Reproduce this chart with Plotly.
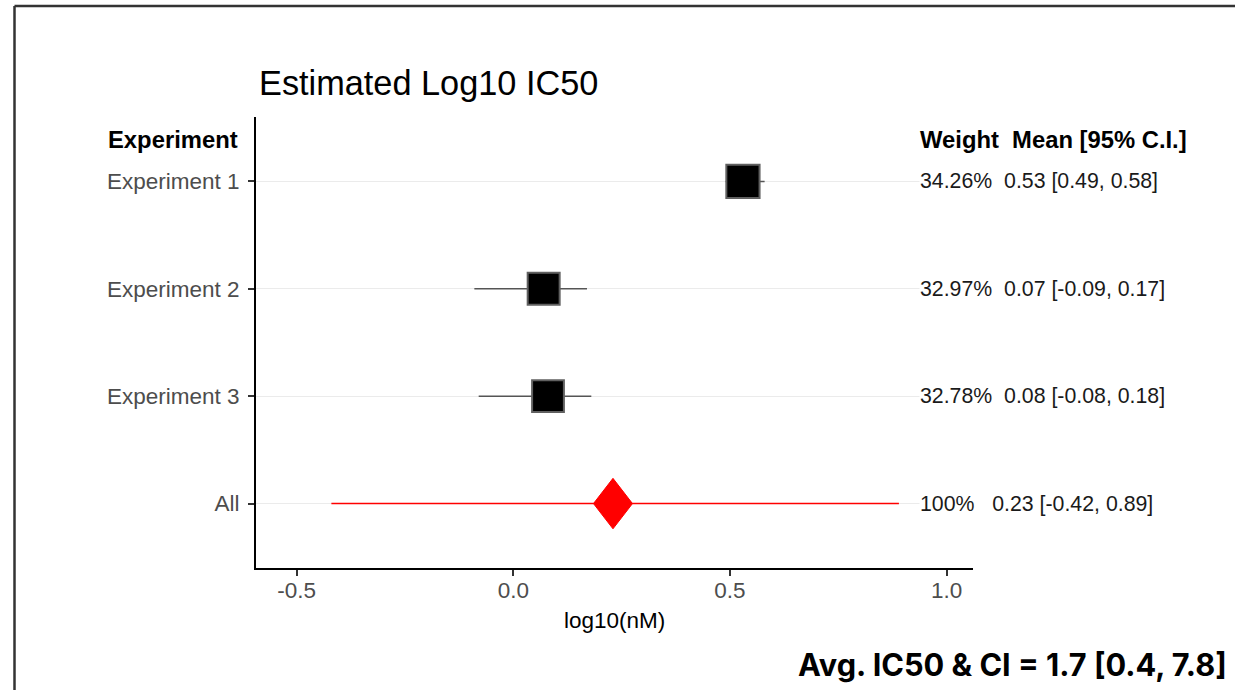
import plotly.graph_objects as go

# Meta-analysis of log10 IC50 estimates
experiments = ["Experiment 1", "Experiment 2", "Experiment 3", "All"]
weights = [34.26, 32.97, 32.78, 100]
means = [0.53, 0.07, 0.08, 0.23]
lower = [0.49, -0.09, -0.08, -0.42]
upper = [0.58, 0.17, 0.18, 0.89]

x_ticks = [-0.5, 0.0, 0.5, 1.0]
x_tick_labels = ["-0.5", "0.0", "0.5", "1.0"]

W, H = 1235, 690
# plot-area box in pixels
L, R, T, B = 256, 973, 117, 568

FONT = "Liberation Sans, Arial, Helvetica, sans-serif"
NB = "\u00a0"


def px_x(p):
    return (p - L) / (R - L)


def px_y(p):
    return (B - p) / (B - T)


rows = list(range(1, len(experiments) + 1))
n_exp = len(experiments) - 1

fig = go.Figure()

# individual experiments: CI whiskers + weight-scaled squares
fig.add_trace(go.Scatter(
    x=means[:n_exp],
    y=rows[:n_exp],
    mode="markers",
    marker=dict(
        symbol="square",
        size=[w * 0.97 for w in weights[:n_exp]],
        color="black",
        opacity=1,
        line=dict(color="#606060", width=2),
    ),
    error_x=dict(
        type="data",
        symmetric=False,
        array=[u - m for u, m in zip(upper[:n_exp], means[:n_exp])],
        arrayminus=[m - l for m, l in zip(means[:n_exp], lower[:n_exp])],
        color="#555555",
        thickness=1.5,
        width=0,
    ),
    hoverinfo="skip",
    showlegend=False,
))

# pooled estimate: red CI line and diamond
pooled_y = rows[-1]
fig.add_trace(go.Scatter(
    x=[lower[-1], upper[-1]],
    y=[pooled_y, pooled_y],
    mode="lines",
    line=dict(color="#ff0000", width=1.5),
    hoverinfo="skip",
    showlegend=False,
))
half_w, half_h = 0.045, 0.235
fig.add_trace(go.Scatter(
    x=[means[-1] - half_w, means[-1], means[-1] + half_w, means[-1], means[-1] - half_w],
    y=[pooled_y, pooled_y - half_h, pooled_y, pooled_y + half_h, pooled_y],
    mode="lines",
    fill="toself",
    fillcolor="#ff0000",
    line=dict(color="#ff0000", width=1),
    hoverinfo="skip",
    showlegend=False,
))

annotations = []

# right-hand text column: weight and mean [CI]
for r, w, m, lo, hi in zip(rows, weights, means, lower, upper):
    w_txt = f"{w:g}%"
    gap = NB * (2 if len(w_txt) > 4 else 3)
    annotations.append(dict(
        x=px_x(919), xref="paper", y=r, yref="y",
        text=f"{w_txt}{gap}{m:.2f} [{lo:.2f}, {hi:.2f}]",
        xanchor="left", yanchor="middle", showarrow=False,
        bgcolor="white", borderpad=0,
        font=dict(family=FONT, size=21.3, color="#1a1a1a"),
    ))

# column headers
annotations.append(dict(
    x=px_x(240), xref="paper", y=px_y(139), yref="paper",
    text="<b>Experiment</b>", xanchor="right", yanchor="middle", showarrow=False,
    font=dict(family=FONT, size=23.8, color="black"),
))
annotations.append(dict(
    x=px_x(918), xref="paper", y=px_y(139), yref="paper",
    text=f"<b>Weight{NB}{NB}Mean [95% C.I.]</b>", xanchor="left", yanchor="middle",
    showarrow=False, font=dict(family=FONT, size=23.8, color="black"),
))

# title
annotations.append(dict(
    x=px_x(257), xref="paper", y=px_y(83), yref="paper",
    text="Estimated Log10 IC50", xanchor="left", yanchor="middle", showarrow=False,
    font=dict(family=FONT, size=34.3, color="black"),
))

# x-axis title
annotations.append(dict(
    x=0.5, xref="paper", y=px_y(620), yref="paper",
    text="log10(nM)", xanchor="center", yanchor="middle", showarrow=False,
    font=dict(family=FONT, size=22.5, color="black"),
))

# back-transformed pooled estimate
avg = 10 ** means[-1]
ci_lo = 10 ** lower[-1]
ci_hi = 10 ** upper[-1]
annotations.append(dict(
    x=px_x(1229), xref="paper", y=px_y(664), yref="paper",
    text=f"<b>Avg. IC50 &amp; CI = {avg:.1f} [{ci_lo:.1f}, {ci_hi:.1f}]</b>",
    xanchor="right", yanchor="middle", showarrow=False,
    font=dict(family="Inter, Roboto, sans-serif", size=30.7, color="black"),
))

# outer frame (top and left edges)
shapes = [
    dict(type="line", xref="paper", yref="paper",
         x0=px_x(14.5), x1=px_x(1245), y0=px_y(6), y1=px_y(6),
         line=dict(color="#333333", width=2.5)),
    dict(type="line", xref="paper", yref="paper",
         x0=px_x(14.5), x1=px_x(14.5), y0=px_y(6), y1=px_y(700),
         line=dict(color="#333333", width=2.5)),
]

fig.update_layout(
    width=W, height=H,
    margin=dict(l=L, r=W - R, t=T, b=H - B, pad=0),
    paper_bgcolor="white",
    plot_bgcolor="white",
    annotations=annotations,
    shapes=shapes,
    showlegend=False,
    xaxis=dict(
        range=[-0.594, 1.061],
        tickvals=x_ticks,
        ticktext=x_tick_labels,
        showgrid=False,
        zeroline=False,
        showline=True,
        linecolor="black",
        linewidth=2,
        ticks="outside",
        ticklen=6,
        tickwidth=2,
        tickcolor="#333333",
        tickfont=dict(family=FONT, size=22.5, color="#4d4d4d"),
        ticklabelstandoff=-5,
        automargin=False,
        fixedrange=True,
    ),
    yaxis=dict(
        range=[len(experiments) + 0.6, 0.4],
        tickvals=rows,
        ticktext=experiments,
        showgrid=True,
        gridcolor="#ebebeb",
        gridwidth=1,
        zeroline=False,
        showline=True,
        linecolor="black",
        linewidth=2,
        ticks="outside",
        ticklen=6,
        tickwidth=2,
        tickcolor="#333333",
        tickfont=dict(family=FONT, size=22.5, color="#4d4d4d"),
        ticklabelstandoff=4,
        automargin=False,
        fixedrange=True,
    ),
)

fig.write_html("out.html", config={"displayModeBar": False})
